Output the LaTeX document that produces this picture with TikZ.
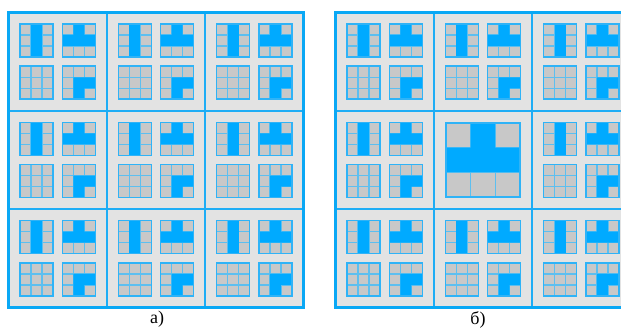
\documentclass[tikz,border=0pt]{standalone}
\usepackage{fontspec}
\setmainfont{Liberation Serif}
\definecolor{frameblue}{HTML}{0AA8F5}
\definecolor{lineblue}{HTML}{1EADF5}
\definecolor{edgeblue}{HTML}{2FB3F7}
\definecolor{seamblue}{HTML}{5CBFF0}
\definecolor{fillblue}{HTML}{00AAFF}
\definecolor{cellgray}{HTML}{C8C8C8}
\definecolor{panelgray}{HTML}{E3E3E3}
\tikzset{
  graycell/.style={fill=cellgray},
  bluecell/.style={fill=fillblue},
  gridline/.style={draw=seamblue, line width=1.1pt},
  gridedge/.style={draw=edgeblue, line width=1.6pt},
  panelbg/.style={fill=panelgray},
  divider/.style={draw=lineblue, line width=1.4pt},
  panelframe/.style={draw=frameblue, line width=2.4pt},
  lab/.style={font=\fontsize{18}{20}\selectfont, inner sep=0pt}
}
% one 3x3 grid: left/top corner, cell size, blue region
\newcommand\tile[4]{%
  \begin{scope}[shift={(#1,#2)},x=#3pt,y=-#3pt]
    \fill[graycell] (0,0) rectangle (3,3);
    \draw[gridline] (1,0)--(1,3) (2,0)--(2,3) (0,1)--(3,1) (0,2)--(3,2);
    \fill[bluecell] #4;
    \draw[gridedge] (0,0) rectangle (3,3);
  \end{scope}}
% a block of four small grids
\newcommand\block[2]{%
  \tile{#1+11.5}{#2+11.5}{11}{(1,0) rectangle (2,3)}
  \tile{#1+53.8}{#2+11.5}{11}{(1,0) rectangle (2,1) (0,1) rectangle (3,2)}
  \tile{#1+11.5}{#2+53.8}{11}{(0,0)}
  \tile{#1+53.8}{#2+53.8}{11}{(1,1) rectangle (3,2) (1,2) rectangle (2,3)}}
\def\cs{98.33}
\begin{document}
\begin{tikzpicture}[x=1pt,y=-1pt]
  \path[use as bounding box, clip] (0,0) rectangle (621,331);
  \fill[white] (0,0) rectangle (621,331);

  % panel a
  \fill[panelbg] (8.5,12.5) rectangle ++(295,295);
  \foreach \i in {0,1,2}{\foreach \j in {0,1,2}{\block{8.5+\i*\cs}{12.5+\j*\cs}}}
  \draw[divider] (8.5+\cs,12.5) -- ++(0,295) (8.5+2*\cs,12.5) -- ++(0,295)
                 (8.5,12.5+\cs) -- ++(295,0) (8.5,12.5+2*\cs) -- ++(295,0);
  \draw[panelframe] (8.5,12.5) rectangle ++(295,295);

  % panel b
  \fill[panelbg] (335.5,12.5) rectangle ++(295,295);
  \foreach \i/\j in {0/0,1/0,2/0,0/1,2/1,0/2,1/2,2/2}{\block{335.5+\i*\cs}{12.5+\j*\cs}}
  \tile{335.5+\cs+12.4}{12.5+\cs+12.4}{24.5}{(1,0) rectangle (2,1) (0,1) rectangle (3,2)}
  \draw[divider] (335.5+\cs,12.5) -- ++(0,295) (335.5+2*\cs,12.5) -- ++(0,295)
                 (335.5,12.5+\cs) -- ++(295,0) (335.5,12.5+2*\cs) -- ++(295,0);
  \draw[panelframe] (335.5,12.5) rectangle ++(295,295);

  \node[lab] (la) at (157,319.5) {а)};
  \node[lab] (lb) at (478,319.5) {б)};
\end{tikzpicture}
\end{document}
